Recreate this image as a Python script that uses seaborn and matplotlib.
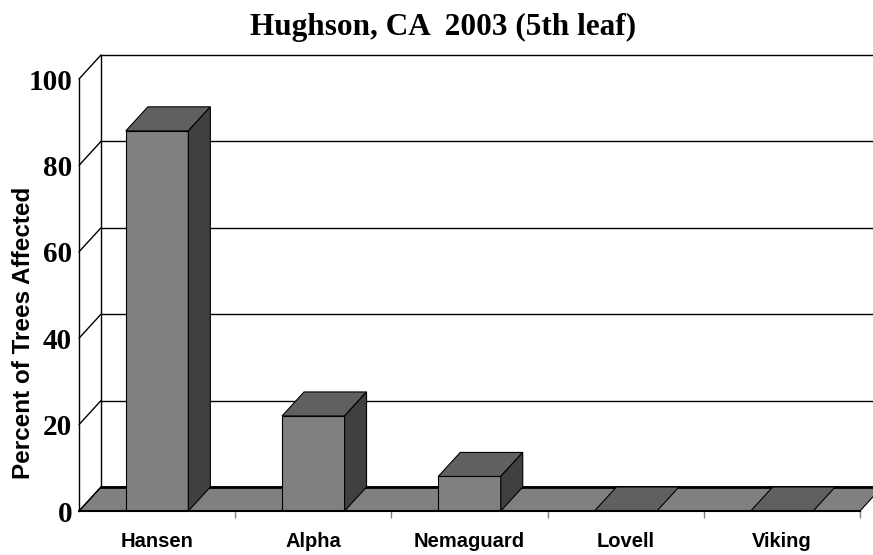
import matplotlib
matplotlib.use("Agg")
import matplotlib.pyplot as plt
from matplotlib.patches import Polygon
import seaborn as sns

# Data
rootstocks = ["Hansen", "Alpha", "Nemaguard", "Lovell", "Viking"]
pct_affected = [88, 22, 8, 0, 0]
y_ticks = [0, 20, 40, 60, 80, 100]
title = "Hughson, CA  2003 (5th leaf)"
y_label = "Percent of Trees Affected"

# Colours of the pseudo-3D faces
FRONT = "#808080"
TOP = "#606060"
SIDE = "#404040"

sns.set_theme(style="white")
plt.rcParams["axes.linewidth"] = 1.0

W, H = 873, 555
fig = plt.figure(figsize=(W / 100, H / 100), dpi=100)
fig.patch.set_facecolor("white")

# Front plane of the plot, in pixels
left_px, right_px, bottom_px, top_px = 79, 860, 511, 79
ax = fig.add_axes([left_px / W, 1 - bottom_px / H,
                   (right_px - left_px) / W, (bottom_px - top_px) / H])
ax.set_facecolor("none")

sns.barplot(x=rootstocks, y=pct_affected, color=FRONT, saturation=1,
            width=0.4, edgecolor="black", linewidth=0.8, ax=ax, zorder=4)
bars = list(ax.patches)

ax.set_xlim(-0.5, 4.5)
ax.set_ylim(0, 100)

# Depth offset (22 px right, 24 px up) expressed in data units
DX = 22 * 5 / (right_px - left_px)
DY = 24 * 100 / (bottom_px - top_px)
x0, x1 = -0.5, 4.5

line_kw = dict(color="black", lw=1.0, clip_on=False, zorder=2)

# Back wall: gridlines, top and left edge
for v in y_ticks[1:]:
    ax.plot([x0 + DX, x1 + DX], [v + DY, v + DY], **line_kw)
ax.plot([x0 + DX, x0 + DX], [DY, 100 + DY], **line_kw)

# Side wall gridlines (diagonals)
for v in y_ticks:
    ax.plot([x0, x0 + DX], [v, v + DY], **line_kw)

# Floor
floor = Polygon([(x0, 0), (x1, 0), (x1 + DX, DY), (x0 + DX, DY)],
                closed=True, facecolor=FRONT, edgecolor="black", lw=0.8,
                clip_on=False, zorder=1)
ax.add_patch(floor)
ax.plot([x0 + DX, x1 + DX], [DY, DY], color="black", lw=2.0,
        clip_on=False, zorder=2)

# Top and side faces of every column
for b in bars:
    bx, bw, bh = b.get_x(), b.get_width(), b.get_height()
    top = Polygon([(bx, bh), (bx + bw, bh), (bx + bw + DX, bh + DY), (bx + DX, bh + DY)],
                  closed=True, facecolor=TOP, edgecolor="black", lw=0.8,
                  clip_on=False, zorder=4)
    ax.add_patch(top)
    if bh > 0:
        side = Polygon([(bx + bw, 0), (bx + bw + DX, DY), (bx + bw + DX, bh + DY), (bx + bw, bh)],
                       closed=True, facecolor=SIDE, edgecolor="black", lw=0.8,
                       clip_on=False, zorder=4)
        ax.add_patch(side)

# Axes styling
for s in ["top", "right"]:
    ax.spines[s].set_visible(False)
ax.spines["left"].set_color("black")
ax.spines["bottom"].set_color("black")
ax.spines["bottom"].set_linewidth(1.5)
ax.spines["left"].set_zorder(3)
ax.spines["bottom"].set_zorder(5)

ax.set_yticks(y_ticks)
ax.set_yticklabels([str(v) for v in y_ticks], family="Liberation Serif",
                   fontweight="bold", fontsize=21)
ax.tick_params(axis="y", length=0, pad=5, colors="black")

ax.set_xticks(range(len(rootstocks)))
ax.set_xticklabels(rootstocks, family="Liberation Sans",
                   fontweight="bold", fontsize=14.5)
ax.set_xticks([i + 0.5 for i in range(len(rootstocks))], minor=True)
ax.tick_params(axis="x", which="major", length=0, pad=15, colors="black")
ax.tick_params(axis="x", which="minor", length=5, width=1, direction="out",
               color="#808080", bottom=True)
ax.set_xlabel("")
ax.set_ylabel("")

fig.text(24 / W, 1 - 333 / H, y_label, rotation=90, ha="center", va="center",
         family="Liberation Sans", fontweight="bold",
         fontsize=17.5, color="black")
fig.text(443 / W, 1 - 27 / H, title, ha="center", va="center",
         family="Liberation Serif", fontweight="bold", fontsize=22.5, color="black")

fig.savefig("out.png", dpi=100, facecolor="white")
